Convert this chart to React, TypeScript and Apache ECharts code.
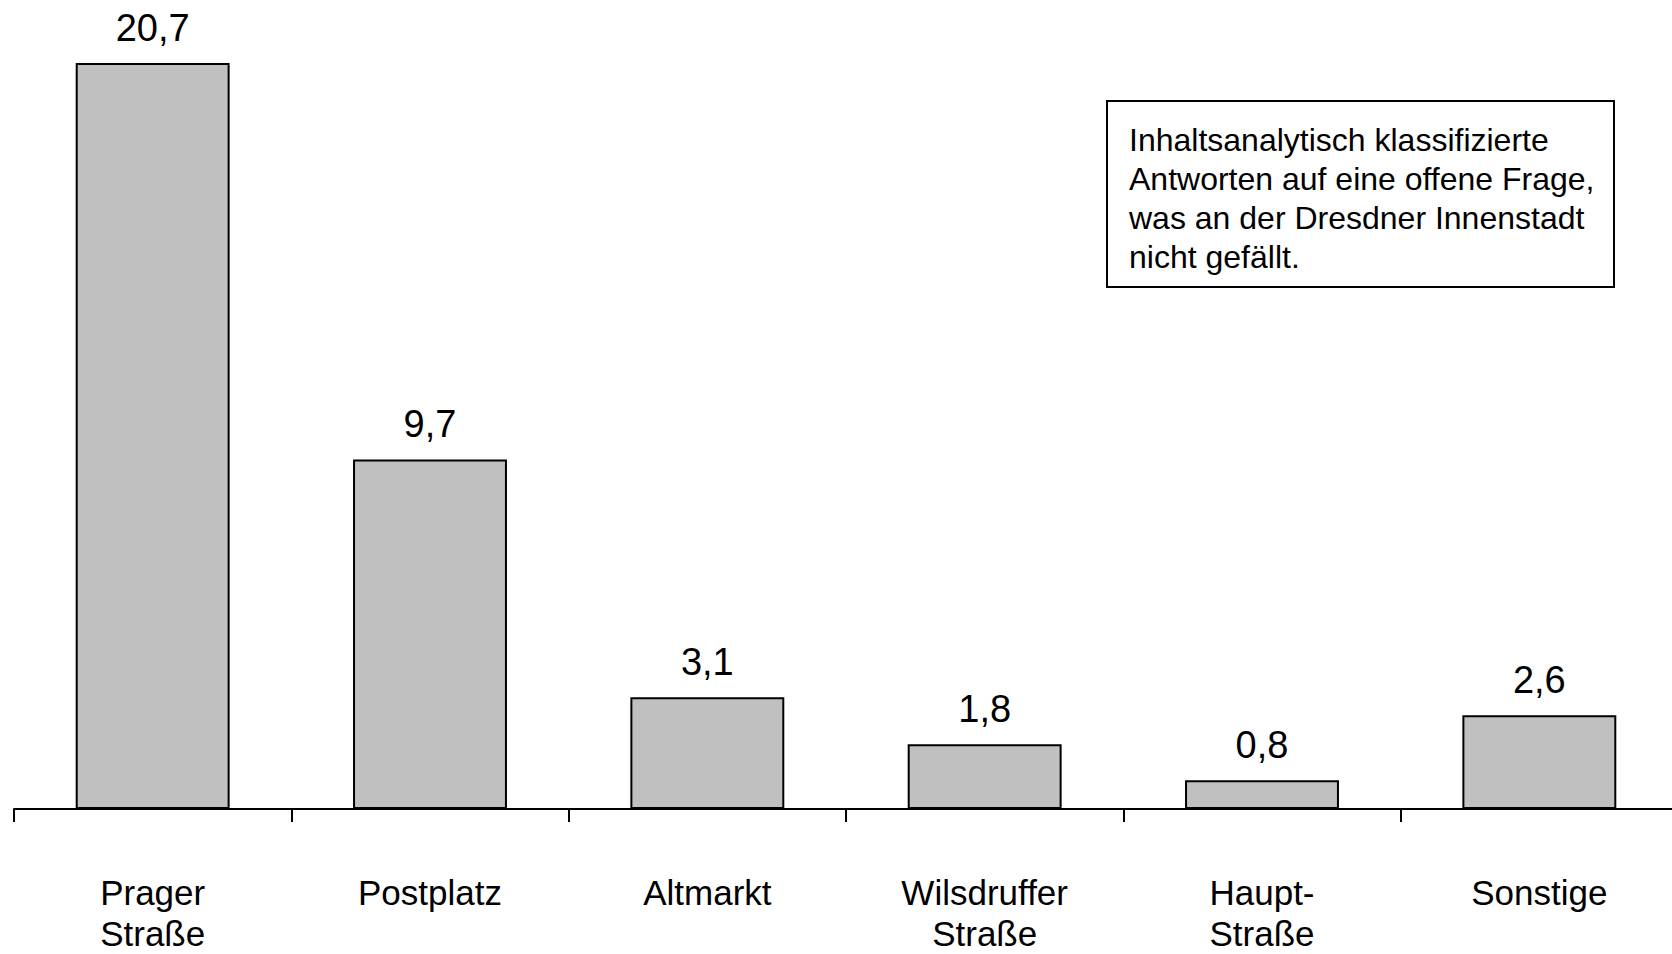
import React, { useEffect, useRef } from "react";
import * as echarts from "echarts";

const categories = ["Prager\nStraße", "Postplatz", "Altmarkt", "Wilsdruffer\nStraße", "Haupt-\nStraße", "Sonstige"];
const values = [20.7, 9.7, 3.1, 1.8, 0.8, 2.6];
const noteLines = [
  "Inhaltsanalytisch klassifizierte",
  "Antworten auf eine offene Frage,",
  "was an der Dresdner Innenstadt",
  "nicht gefällt.",
];

const FONT = "Liberation Sans, Arial, Helvetica, sans-serif";

export default function App() {
  const ref = useRef<HTMLDivElement>(null);
  useEffect(() => {
    document.body.style.margin = "0";
    document.body.style.overflow = "hidden";
    const chart = echarts.init(ref.current!, null, { renderer: "svg" });
    chart.setOption({
      animation: false,
      backgroundColor: "#ffffff",
      grid: {
        left: 14,
        width: 1664,
        top: 9,
        bottom: 145,
        containLabel: false,
        outerBoundsMode: "none",
      },
      xAxis: {
        type: "category",
        data: categories,
        axisLine: { lineStyle: { color: "#000", width: 2 } },
        axisTick: { show: true, length: 13, lineStyle: { color: "#000", width: 2 } },
        axisLabel: {
          color: "#000",
          fontFamily: FONT,
          fontSize: 35,
          lineHeight: 41,
          margin: 63,
          interval: 0,
        },
      },
      yAxis: {
        type: "value",
        min: 0,
        max: 22.2,
        show: false,
        splitLine: { show: false },
      },
      series: [
        {
          type: "bar",
          data: values,
          barWidth: "55.5%",
          itemStyle: { color: "#c0c0c0", borderColor: "#000", borderWidth: 2 },
          label: {
            show: true,
            position: "top",
            distance: 16,
            color: "#000",
            fontFamily: FONT,
            fontSize: 38,
            formatter: (p: any) => p.value.toFixed(1).replace(".", ","),
          },
        },
      ],
      graphic: [
        {
          type: "rect",
          shape: { x: 1107, y: 101, width: 507, height: 186 },
          style: { fill: "#fff", stroke: "#000", lineWidth: 2 },
        },
        {
          type: "text",
          x: 1129,
          y: 120,
          style: {
            text: noteLines.join("\n"),
            font: `32px ${FONT}`,
            lineHeight: 39,
            fill: "#000",
          },
        },
      ],
    });
    return () => chart.dispose();
  }, []);
  return (
    <div
      ref={ref}
      style={{ position: "absolute", left: 0, top: 0, width: 1672, height: 954 }}
    />
  );
}
